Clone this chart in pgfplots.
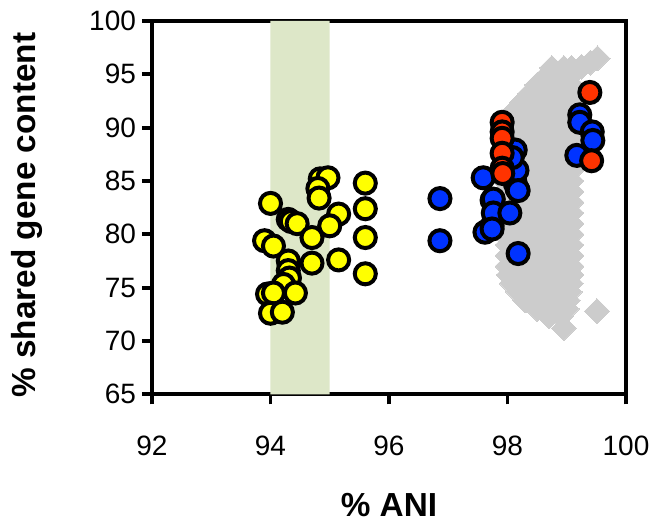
\documentclass[border=0pt]{standalone}
\usepackage{pgfplots}
\pgfplotsset{compat=1.18}
\usepackage{fontspec}
\setmainfont{Liberation Sans}
\definecolor{bandgreen}{RGB}{221,231,200}
\definecolor{cloudgrey}{RGB}{204,204,204}
\definecolor{ptblue}{RGB}{0,51,255}
\definecolor{ptred}{RGB}{255,51,0}
\definecolor{ptyellow}{RGB}{255,255,0}

\begin{document}
\begin{tikzpicture}
\begin{axis}[
    scale only axis,
    width=355.5pt, height=280pt,
    xmin=92, xmax=100, ymin=65, ymax=100,
    xtick={92,94,96,98,100},
    ytick={65,70,75,80,85,90,95,100},
    axis lines*=box,
    tick pos=left,
    tick align=outside,
    major tick length=7.5pt,
    axis line style={line width=2.8pt, black},
    xtick style={line width=2.8pt, black},
    ytick style={line width=2.8pt, black},
    ticklabel style={font=\fontsize{21}{21}\selectfont},
    xticklabel style={yshift=-20pt},
    yticklabel style={xshift=-1pt},
    /pgf/number format/assume math mode=true,
    xlabel={\% ANI},
    ylabel={\% shared gene content},
    every axis x label/.style={at={([yshift=-83pt]axis description cs:0.5,0)}, anchor=center, font=\bfseries\fontsize{25}{25}\selectfont},
    every axis y label/.style={at={([xshift=-94pt]axis description cs:0,0.48)}, anchor=center, rotate=90, font=\bfseries\fontsize{25}{25}\selectfont},
    circ/.style={only marks, mark=*, mark size=7.9pt, mark options={draw=black, line width=3pt, fill=#1}},
]
\coordinate (sw) at (rel axis cs:0,0);
\coordinate (ne) at (rel axis cs:1,1);

% ANI species boundary band
\addplot[draw=none, fill=bandgreen] coordinates {(94,65) (94,100) (95,100) (95,65) (94,65)};

% grey cloud
\addplot[only marks, color=cloudgrey, mark=square*, mark size=6.6pt, mark options={rotate=45, draw=cloudgrey, fill=cloudgrey, line width=0pt}] coordinates {
(98.75,95.6) (98.95,95.6) (99.08,95.6)
(98.65,94.8) (98.85,94.8) (99.05,94.8)
(98.5,94.0) (98.7,94.0) (98.9,94.0) (99.08,94.0)
(98.38,93.2) (98.58,93.2) (98.78,93.2) (98.98,93.2) (99.08,93.2)
(98.25,92.4) (98.45,92.4) (98.65,92.4) (98.85,92.4) (99.05,92.4)
(98.12,91.6) (98.32,91.6) (98.52,91.6) (98.72,91.6) (98.92,91.6) (99.08,91.6)
(98.05,90.8) (98.25,90.8) (98.45,90.8) (98.65,90.8) (98.85,90.8) (99.05,90.8)
(98.0,90.0) (98.2,90.0) (98.4,90.0) (98.6,90.0) (98.8,90.0) (99.0,90.0) (99.08,90.0)
(97.95,89.0) (98.15,89.0) (98.35,89.0) (98.55,89.0) (98.75,89.0) (98.95,89.0) (99.08,89.0)
(97.95,88.0) (98.15,88.0) (98.35,88.0) (98.55,88.0) (98.75,88.0) (98.95,88.0) (99.08,88.0)
(97.95,87.0) (98.15,87.0) (98.35,87.0) (98.55,87.0) (98.75,87.0) (98.95,87.0) (99.08,87.0)
(97.95,86.0) (98.15,86.0) (98.35,86.0) (98.55,86.0) (98.75,86.0) (98.95,86.0) (99.08,86.0)
(97.95,85.0) (98.15,85.0) (98.35,85.0) (98.55,85.0) (98.75,85.0) (98.95,85.0) (99.08,85.0)
(97.95,84.0) (98.15,84.0) (98.35,84.0) (98.55,84.0) (98.75,84.0) (98.95,84.0) (99.08,84.0)
(97.95,83.0) (98.15,83.0) (98.35,83.0) (98.55,83.0) (98.75,83.0) (98.95,83.0) (99.08,83.0)
(97.95,82.0) (98.15,82.0) (98.35,82.0) (98.55,82.0) (98.75,82.0) (98.95,82.0) (99.08,82.0)
(97.95,81.0) (98.15,81.0) (98.35,81.0) (98.55,81.0) (98.75,81.0) (98.95,81.0) (99.08,81.0)
(97.95,80.0) (98.15,80.0) (98.35,80.0) (98.55,80.0) (98.75,80.0) (98.95,80.0) (99.08,80.0)
(98.0,79.0) (98.2,79.0) (98.4,79.0) (98.6,79.0) (98.8,79.0) (99.0,79.0) (99.08,79.0)
(98.0,78.0) (98.2,78.0) (98.4,78.0) (98.6,78.0) (98.8,78.0) (99.0,78.0) (99.08,78.0)
(98.0,77.0) (98.2,77.0) (98.4,77.0) (98.6,77.0) (98.8,77.0) (99.0,77.0) (99.08,77.0)
(98.02,76.2) (98.22,76.2) (98.42,76.2) (98.62,76.2) (98.82,76.2) (99.02,76.2) (99.08,76.2)
(98.07,75.4) (98.27,75.4) (98.47,75.4) (98.67,75.4) (98.87,75.4) (99.07,75.4)
(98.18,74.6) (98.38,74.6) (98.58,74.6) (98.78,74.6) (98.98,74.6) (99.05,74.6)
(98.3,73.8) (98.5,73.8) (98.7,73.8) (98.9,73.8) (99.02,73.8)
(98.5,73.0) (98.7,73.0) (98.9,73.0) (99.0,73.0)
(98.7,72.3) (98.9,72.3)
(98.95,71.2)
(99.25,95.7) (99.4,96.1) (99.52,96.5)
(99.51,72.8)
};

% yellow
\addplot[circ=ptyellow] coordinates {
(94.0,82.9) (94.3,81.4) (94.35,81.2) (94.45,81.0) (94.7,79.7)
(95.15,81.9) (95.0,80.8) (94.84,85.2) (94.97,85.3) (94.8,84.3)
(94.82,83.4) (95.6,84.8) (95.6,82.4) (95.6,79.7) (95.6,76.3)
(95.15,77.6) (94.7,77.3) (93.9,79.4) (94.05,78.9) (94.3,77.5)
(94.3,76.6) (94.32,75.9) (94.22,75.3) (93.95,74.4) (94.05,74.5)
(94.42,74.5) (94.0,72.6) (94.2,72.7)
};

% blue
\addplot[circ=ptblue] coordinates {
(96.86,83.35) (96.86,79.4) (97.59,85.3) (97.74,83.2) (97.62,80.2)
(97.74,80.8) (98.16,84.3) (97.76,83.3) (97.76,82.0) (98.04,82.0)
(97.74,80.5) (98.18,78.2) (98.13,84.8) (98.13,87.9) (98.16,86.0)
(98.08,87.2) (98.18,84.1)
(99.22,91.2) (99.22,90.5) (99.43,89.6) (99.44,88.8) (99.17,87.4)
};

% red
\addplot[circ=ptred] coordinates {
(97.91,90.5) (97.91,89.6) (97.91,89.0) (97.91,87.6) (97.91,86.2)
(97.92,85.7) (99.39,93.3) (99.42,86.9)
};
\end{axis}
\pgfresetboundingbox
\path ([shift={(-114pt,-98.25pt)}]sw) rectangle ([shift={(22.5pt,15.75pt)}]ne);
\end{tikzpicture}
\end{document}
